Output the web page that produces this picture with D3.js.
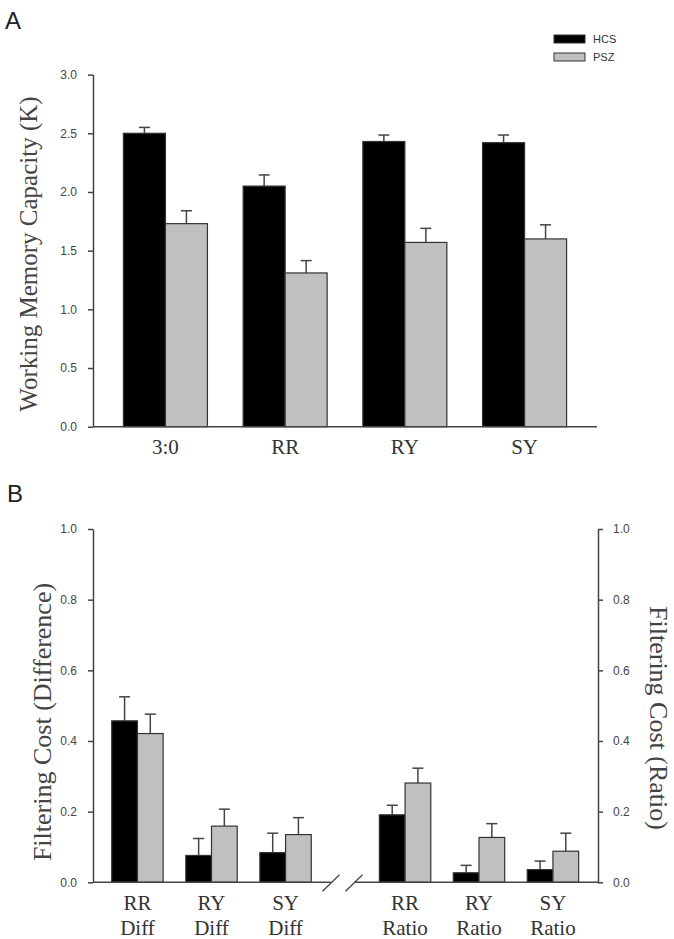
<!DOCTYPE html>
<html>
<head>
<meta charset="utf-8">
<script src="https://cdn.jsdelivr.net/npm/d3@7/dist/d3.min.js"></script>
<style>
  html, body { margin: 0; padding: 0; background: #fff; }
  svg { display: block; }
</style>
</head>
<body>
<svg id="chart" width="674" height="939"></svg>
<script>
// ---------- Data ----------
const groups = ["HCS", "PSZ"];

// Panel A
const wmCategories = ["3:0", "RR", "RY", "SY"];
const wmHCS = [2.50, 2.05, 2.43, 2.42];
const wmHCSErr = [0.05, 0.095, 0.055, 0.065];
const wmPSZ = [1.73, 1.31, 1.57, 1.60];
const wmPSZErr = [0.11, 0.105, 0.12, 0.12];
const wmTicks = [0, 0.5, 1.0, 1.5, 2.0, 2.5, 3.0];

// Panel B (difference)
const diffCategories = ["RR|Diff", "RY|Diff", "SY|Diff"];
const diffHCS = [0.457, 0.076, 0.084];
const diffHCSErr = [0.068, 0.048, 0.055];
const diffPSZ = [0.421, 0.159, 0.135];
const diffPSZErr = [0.055, 0.048, 0.048];

// Panel B (ratio)
const ratioCategories = ["RR|Ratio", "RY|Ratio", "SY|Ratio"];
const ratioHCS = [0.191, 0.027, 0.036];
const ratioHCSErr = [0.027, 0.021, 0.024];
const ratioPSZ = [0.281, 0.127, 0.088];
const ratioPSZErr = [0.042, 0.039, 0.051];

const fcTicks = [0, 0.2, 0.4, 0.6, 0.8, 1.0];

// ---------- Styles ----------
const colors = { HCS: "#000000", PSZ: "#bfc0c2" };
const axisColor = "#444";
const tickFont = "'Liberation Sans', Arial, sans-serif";
const serif = "'Liberation Serif', 'Times New Roman', serif";

const svg = d3.select("#chart");

function styleAxis(g) {
  g.select(".domain").attr("stroke", axisColor).attr("stroke-width", 1.5);
  g.selectAll(".tick line").attr("stroke", axisColor).attr("stroke-width", 1.5);
  g.selectAll(".tick text")
    .attr("fill", "#444")
    .style("font-family", tickFont)
    .style("font-size", "12px");
}

function drawBars(g, x, y, cats, hcs, hcsErr, psz, pszErr, bw) {
  const rows = [];
  cats.forEach((c, i) => {
    rows.push({ c, g: "HCS", v: hcs[i], e: hcsErr[i], off: -bw });
    rows.push({ c, g: "PSZ", v: psz[i], e: pszErr[i], off: 0 });
  });
  const eb = g.append("g");
  rows.forEach(d => {
    const cx = x(d.c) + d.off + bw / 2;
    eb.append("line")
      .attr("x1", cx).attr("x2", cx)
      .attr("y1", y(d.v)).attr("y2", y(d.v + d.e))
      .attr("stroke", "#444").attr("stroke-width", 1.5);
    eb.append("line")
      .attr("x1", cx - 5.5).attr("x2", cx + 5.5)
      .attr("y1", y(d.v + d.e)).attr("y2", y(d.v + d.e))
      .attr("stroke", "#444").attr("stroke-width", 1.5);
  });
  g.append("g").selectAll("rect").data(rows).join("rect")
    .attr("x", d => x(d.c) + d.off)
    .attr("y", d => y(d.v))
    .attr("width", bw)
    .attr("height", d => y(0) - y(d.v))
    .attr("fill", d => colors[d.g])
    .attr("stroke", "#333")
    .attr("stroke-width", 1.2);
}

// ---------- Panel A ----------
svg.append("text").attr("x", 5).attr("y", 29)
  .style("font-family", tickFont).style("font-size", "24px").attr("fill", "#222").text("A");

const yA = d3.scaleLinear().domain([0, 3]).range([426.7, 74.6]);
const xA = d3.scalePoint().domain(wmCategories).range([93, 597]).padding(0.605);

const gA = svg.append("g");
drawBars(gA, xA, yA, wmCategories, wmHCS, wmHCSErr, wmPSZ, wmPSZErr, 42);

gA.append("line").attr("x1", 93).attr("x2", 597).attr("y1", yA(0)).attr("y2", yA(0))
  .attr("stroke", axisColor).attr("stroke-width", 1.5);

const axA = gA.append("g").attr("transform", "translate(93,0)")
  .call(d3.axisLeft(yA).tickValues(wmTicks).tickFormat(d3.format(".1f")).tickSize(5).tickSizeOuter(0).tickPadding(11));
styleAxis(axA);

gA.selectAll(".xlabA").data(wmCategories).join("text")
  .attr("x", d => xA(d)).attr("y", 454)
  .attr("text-anchor", "middle")
  .style("font-family", serif).style("font-size", "21px").attr("fill", "#333")
  .text(d => d);

svg.append("text")
  .attr("transform", "translate(37,254) rotate(-90)")
  .attr("text-anchor", "middle")
  .style("font-family", serif).style("font-size", "25px").attr("fill", "#444")
  .text("Working Memory Capacity (K)");

// Legend
const leg = svg.append("g");
groups.forEach((gname, i) => {
  leg.append("rect").attr("x", 554).attr("y", 35 + i * 18).attr("width", 31).attr("height", 8)
    .attr("fill", colors[gname]).attr("stroke", "#333").attr("stroke-width", 1);
  leg.append("text").attr("x", 593).attr("y", 43 + i * 18)
    .style("font-family", tickFont).style("font-size", "11px").attr("fill", "#333")
    .text(gname);
});

// ---------- Panel B ----------
svg.append("text").attr("x", 7).attr("y", 502)
  .style("font-family", tickFont).style("font-size", "24px").attr("fill", "#222").text("B");

const yB = d3.scaleLinear().domain([0, 1]).range([882.3, 529]);
const xDiff = d3.scalePoint().domain(diffCategories).range([93, 330]).padding(0.6);
const xRatio = d3.scalePoint().domain(ratioCategories).range([357, 601]).padding(0.65);

const gB = svg.append("g");
drawBars(gB, xDiff, yB, diffCategories, diffHCS, diffHCSErr, diffPSZ, diffPSZErr, 25.7);
drawBars(gB, xRatio, yB, ratioCategories, ratioHCS, ratioHCSErr, ratioPSZ, ratioPSZErr, 25.7);

// x axis with break
gB.append("line").attr("x1", 93).attr("x2", 331).attr("y1", yB(0)).attr("y2", yB(0))
  .attr("stroke", axisColor).attr("stroke-width", 1.5);
gB.append("line").attr("x1", 354).attr("x2", 598).attr("y1", yB(0)).attr("y2", yB(0))
  .attr("stroke", axisColor).attr("stroke-width", 1.5);
[331, 354].forEach(cx => {
  gB.append("line").attr("x1", cx - 8.5).attr("x2", cx + 8.5)
    .attr("y1", yB(0) + 9).attr("y2", yB(0) - 7.5)
    .attr("stroke", axisColor).attr("stroke-width", 1.3);
});

const axBL = gB.append("g").attr("transform", "translate(93,0)")
  .call(d3.axisLeft(yB).tickValues(fcTicks).tickFormat(d3.format(".1f")).tickSize(5).tickSizeOuter(0).tickPadding(11));
styleAxis(axBL);
const axBR = gB.append("g").attr("transform", "translate(598,0)")
  .call(d3.axisRight(yB).tickValues(fcTicks).tickFormat(d3.format(".1f")).tickSize(5).tickSizeOuter(0).tickPadding(10));
styleAxis(axBR);

function twoLineLabels(x, cats) {
  cats.forEach(c => {
    const parts = c.split("|");
    parts.forEach((p, j) => {
      gB.append("text")
        .attr("x", x(c)).attr("y", 910 + j * 25)
        .attr("text-anchor", "middle")
        .style("font-family", serif).style("font-size", "21px").attr("fill", "#333")
        .text(p);
    });
  });
}
twoLineLabels(xDiff, diffCategories);
twoLineLabels(xRatio, ratioCategories);

svg.append("text")
  .attr("transform", "translate(51,722) rotate(-90)")
  .attr("text-anchor", "middle")
  .style("font-family", serif).style("font-size", "26px").attr("fill", "#444")
  .text("Filtering Cost (Difference)");

svg.append("text")
  .attr("transform", "translate(650,718) rotate(90)")
  .attr("text-anchor", "middle")
  .style("font-family", serif).style("font-size", "26px").attr("fill", "#444")
  .text("Filtering Cost (Ratio)");
</script>
</body>
</html>
